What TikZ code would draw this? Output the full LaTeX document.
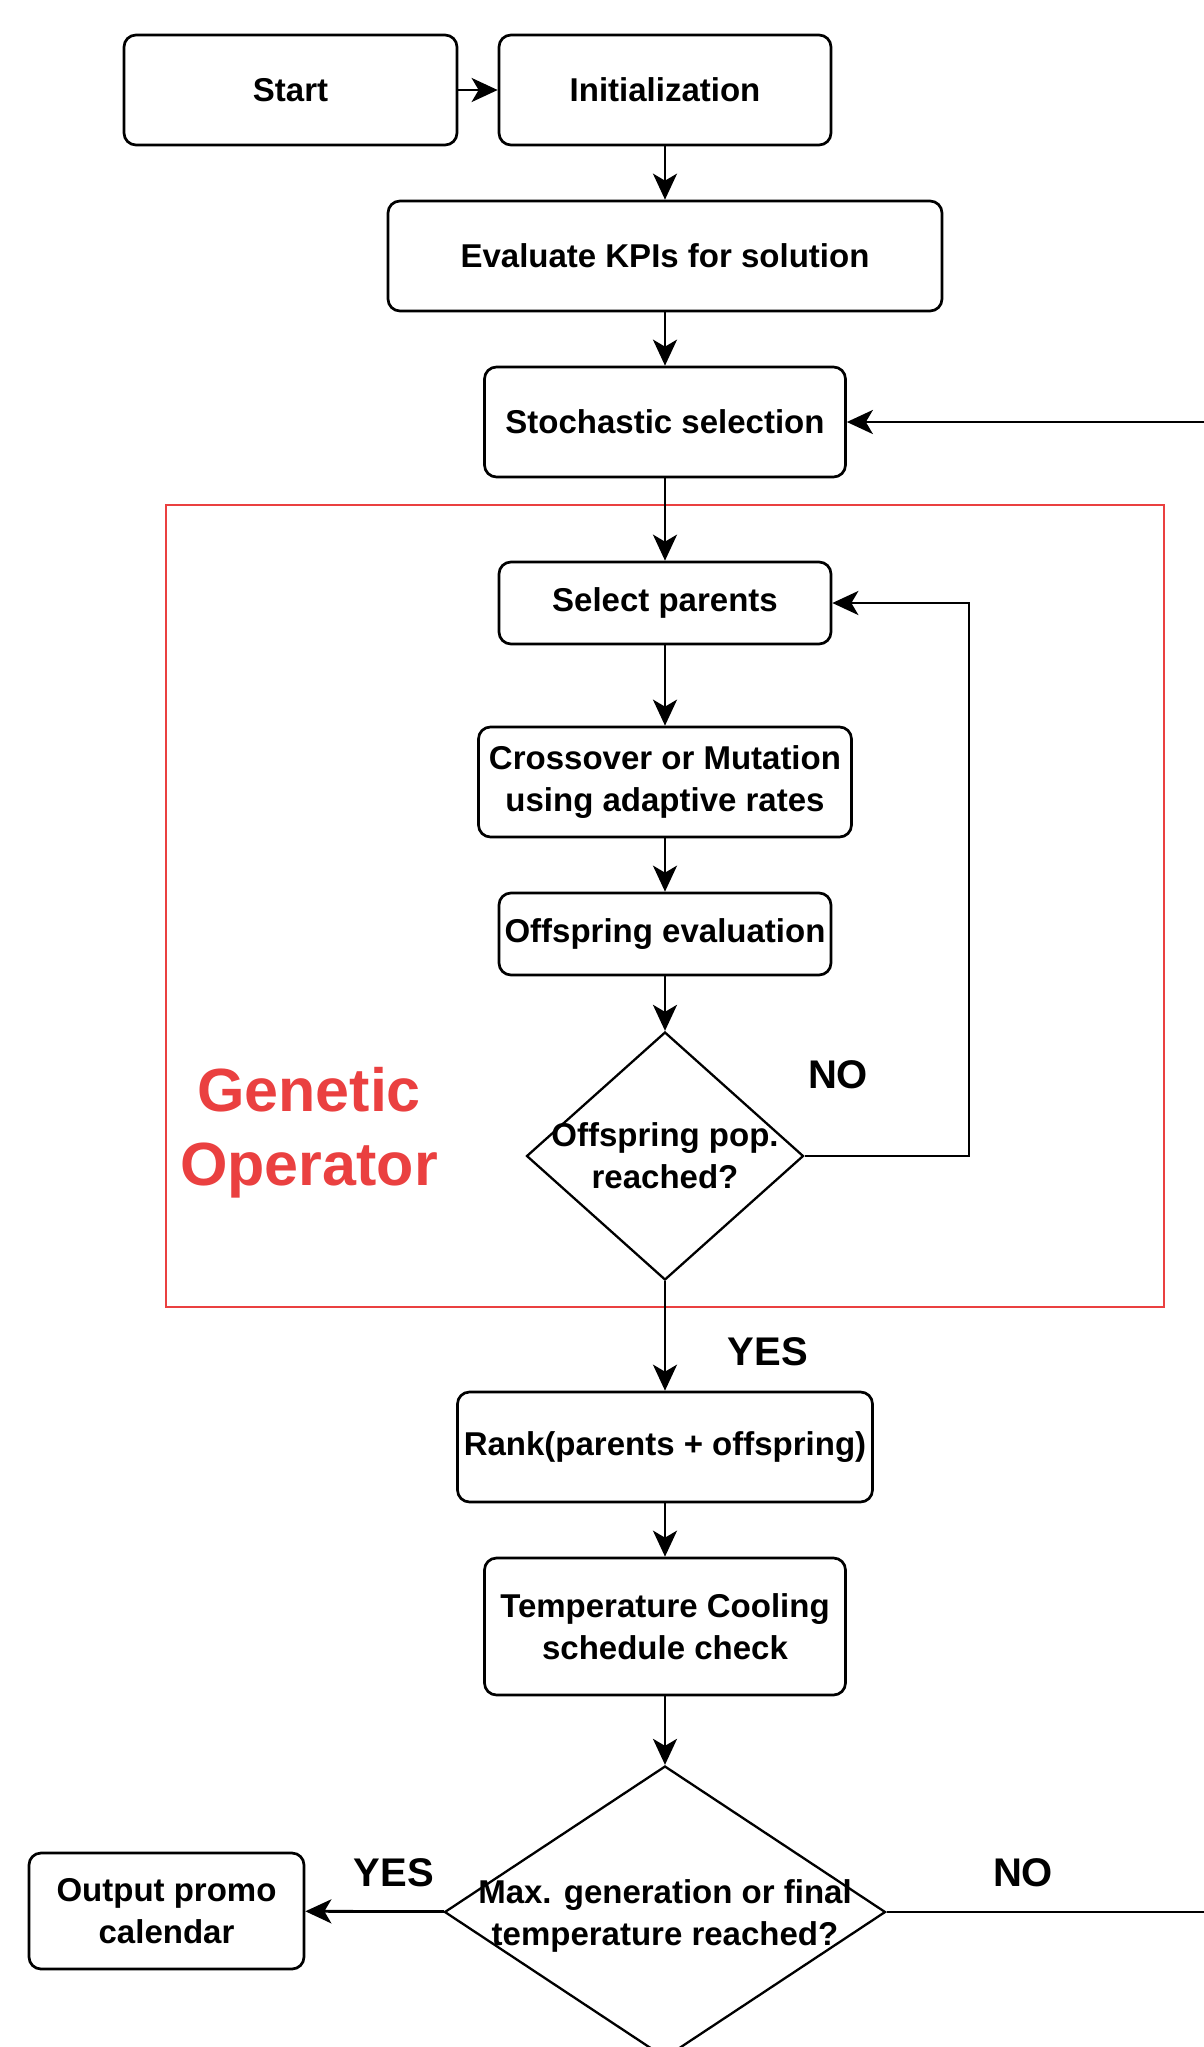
\documentclass[tikz,border=0pt]{standalone}
\usepackage{fontspec}
\setmainfont{Liberation Sans}
\usetikzlibrary{shapes.geometric,arrows.meta}
\definecolor{redc}{RGB}{234,64,64}
\begin{document}
\begin{tikzpicture}[x=0.5pt,y=-0.5pt,
  box/.style={draw, rounded corners=6pt, line width=1.35pt, font=\fontsize{16.5}{20.9}\selectfont\bfseries, align=center, inner sep=0pt},
  dia/.style={draw, diamond, line width=1.15pt, inner sep=0pt},
  txt/.style={font=\fontsize{16.5}{20.9}\selectfont\bfseries, align=center, inner sep=0pt},
  arr/.style={-{Stealth[length=13pt,width=12pt,inset=3.5pt]}, line width=1.4pt},
  lbl/.style={font=\fontsize{20}{24}\selectfont\bfseries, inner sep=0pt},
  gtxt/.style={font=\fontsize{30.5}{37}\selectfont\bfseries, text=redc, align=center, inner sep=0pt}]
\useasboundingbox (0,0) rectangle (1204,2047);
\clip (0,0) rectangle (1204,2047);

\node[draw=redc, line width=1pt, minimum width=499pt, minimum height=401pt, inner sep=0pt] (gop) at (665,906) {};

\node[box, minimum width=166.5pt, minimum height=55pt] (start) at (290.5,90) {Start};
\node[box, minimum width=166pt, minimum height=55pt] (init) at (665,90) {Initialization};
\node[box, minimum width=277pt, minimum height=55pt] (eval) at (665,256) {Evaluate KPIs for solution};
\node[box, minimum width=180.5pt, minimum height=55pt] (stoch) at (665,422) {Stochastic selection};
\node[box, minimum width=166pt, minimum height=41pt] (sel) at (665,603) {Select parents};
\node[box, minimum width=186.5pt, minimum height=55pt] (cross) at (665,782) {Crossover or Mutation\\using adaptive rates};
\node[box, minimum width=166pt, minimum height=41pt] (offe) at (665,934) {Offspring evaluation};
\node[dia, minimum width=138.5pt, minimum height=124pt] (d1) at (665,1156) {};
\node[txt] (d1t) at (d1.center) {Offspring pop.\\reached?};
\node[box, minimum width=207.5pt, minimum height=55pt] (rank) at (665,1447) {Rank(parents + offspring)};
\node[box, minimum width=180.5pt, minimum height=68.5pt] (temp) at (665,1626.5) {Temperature Cooling\\schedule check};
\node[dia, minimum width=220.5pt, minimum height=146pt] (d2) at (665,1912) {};
\node[txt] (d2t) at (665,1916) {Max. generation or final\\temperature reached?};
\node[box, minimum width=137.5pt, minimum height=58pt] (out) at (166.5,1911) {Output promo\\calendar};

\node[lbl] (no1) at (838,1075) {NO};
\node[lbl] (yes1) at (768,1352) {YES};
\node[lbl] (yes2) at (394,1873) {YES};
\node[lbl] (no2) at (1023,1873) {NO};
\node[gtxt] (gen) at (309,1133) {Genetic\\Operator};

\coordinate (lp) at (969,1156);
\coordinate (rt) at (1260,1912);

\draw[arr] (start) -- (init);
\draw[arr] (init) -- (eval);
\draw[arr] (eval) -- (stoch);
\draw[arr] (stoch) -- (sel);
\draw[arr] (sel) -- (cross);
\draw[arr] (cross) -- (offe);
\draw[arr] (offe) -- (d1);
\draw[arr] (d1.east) -- (lp) |- (sel.east);
\draw[arr] (d1) -- (rank);
\draw[arr] (rank) -- (temp);
\draw[arr] (temp) -- (d2);
\draw[arr] (d2) -- (out);
\draw[arr] (d2.east) -- (rt) |- (stoch.east);
\end{tikzpicture}
\end{document}
